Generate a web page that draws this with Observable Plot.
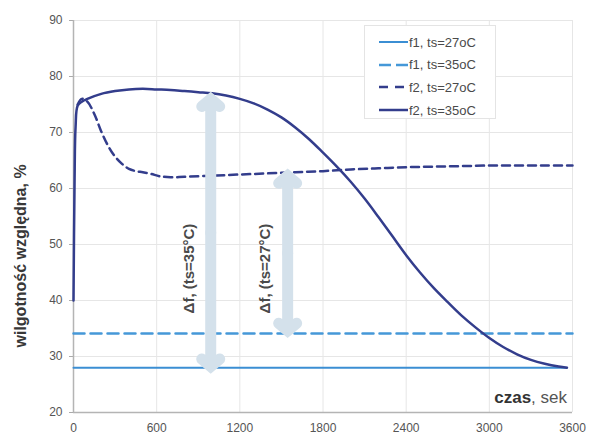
<!DOCTYPE html>
<html><head><meta charset="utf-8">
<script src="https://cdn.jsdelivr.net/npm/d3@7"></script>
<script src="https://cdn.jsdelivr.net/npm/@observablehq/plot@0.6"></script>
<style>
body{margin:0;background:#fff;font-family:"Liberation Sans",Arial,sans-serif}
#wrap{position:relative;width:593px;height:441px;overflow:hidden}
#legend{position:absolute;left:364px;top:25px;width:132px;height:94px;background:#fff;border:1px solid #e4e4e4;box-sizing:border-box}
.item{position:absolute;left:14px;height:14px;display:flex;align-items:center;font-size:13px;color:#4a4a4a;white-space:nowrap}
.item svg{margin-right:1px}
#xlab{position:absolute;right:26px;top:388px;font-size:17px;color:#555;white-space:nowrap}
#xlab b{color:#333}
</style></head>
<body><div id="wrap"></div>
<script>
// ---- data ----
const xTicks = [0, 600, 1200, 1800, 2400, 3000, 3600];
const yTicks = [20, 30, 40, 50, 60, 70, 80, 90];

const f1_27_t = [0, 3560];
const f1_27_v = [28, 28];

const f1_35_t = [0, 3600];
const f1_35_v = [34.1, 34.1];

const f2_27_t = [30, 60, 100, 150, 200, 250, 300, 350, 400, 450, 500, 560, 620, 700, 800, 1000, 1200, 1400, 1600, 1800, 2000, 2200, 2400, 2600, 2800, 3000, 3200, 3400, 3600];
const f2_27_v = [75, 76, 75.5, 73.3, 70.2, 67.6, 65.7, 64.4, 63.5, 63.1, 62.9, 62.6, 62.2, 62, 62.1, 62.3, 62.5, 62.7, 62.9, 63.1, 63.4, 63.6, 63.8, 63.9, 64, 64.1, 64.1, 64.1, 64.1];

const f2_35_t = [0, 8, 15, 30, 60, 100, 200, 300, 400, 500, 600, 700, 800, 900, 1000, 1100, 1200, 1300, 1400, 1500, 1600, 1700, 1800, 1900, 2000, 2100, 2200, 2300, 2400, 2500, 2600, 2700, 2800, 2900, 3000, 3100, 3200, 3300, 3400, 3500, 3560];
const f2_35_v = [40, 62, 71, 74.8, 75.5, 76, 76.9, 77.4, 77.7, 77.8, 77.7, 77.6, 77.4, 77.2, 77, 76.6, 76, 75.2, 74.1, 72.7, 70.9, 68.8, 66.4, 63.9, 61.2, 58.2, 54.9, 51.5, 48.1, 45, 42.2, 39.7, 37.3, 35.2, 33.3, 31.7, 30.4, 29.4, 28.7, 28.2, 28];

const seriesNames = ["f1, ts=27oC", "f1, ts=35oC", "f2, ts=27oC", "f2, ts=35oC"];

const arrowT = [990, 1545];
const arrowTop = [76, 62.3];
const arrowBottom = [28.2, 34.6];
const arrowLabels = ["Δf, (ts=35°C)", "Δf, (ts=27°C)"];
const arrowLabelStartY = [37.7, 37.7];

const yLabel = "wilgotność względna, %";

// ---- styles ----
const styles = [
  {color: "#3b8ed3", width: 2, dash: null},
  {color: "#4598d8", width: 2.5, dash: "11,6"},
  {color: "#333d8c", width: 2.5, dash: "8,5"},
  {color: "#333d8c", width: 2.5, dash: null}
];
const seriesData = [[f1_27_t, f1_27_v], [f1_35_t, f1_35_v], [f2_27_t, f2_27_v], [f2_35_t, f2_35_v]]
  .map(([t, v]) => d3.zip(t, v));

const arrowIdx = d3.range(arrowT.length);
const arrowMid = arrowIdx.map(i => (arrowTop[i] + arrowBottom[i]) / 2);
const arrowColor = "#d4e1eb";

const chart = Plot.plot({
  width: 593, height: 441,
  marginLeft: 73, marginRight: 21, marginTop: 20, marginBottom: 29,
  style: {background: "#fff", fontFamily: "Liberation Sans, Arial, sans-serif"},
  x: {domain: [0, 3600], ticks: xTicks},
  y: {domain: [20, 90], ticks: yTicks},
  marks: [
    Plot.gridX(xTicks, {stroke: "#e6e6e6", strokeOpacity: 1, strokeWidth: 1}),
    Plot.gridY(yTicks, {stroke: "#e6e6e6", strokeOpacity: 1, strokeWidth: 1}),
    Plot.axisX(xTicks, {tickSize: 0, tickPadding: 11, fontSize: 12, fill: "#555", label: null, tickFormat: d => String(d)}),
    Plot.axisY(yTicks, {tickSize: 4, stroke: "#aaa", tickPadding: 7, fontSize: 12, fill: "#555", label: null, tickFormat: d => String(d)}),
    Plot.ruleX([0], {stroke: "#b4b4b4", strokeWidth: 1.5}),
    Plot.ruleY([20], {stroke: "#b4b4b4", strokeWidth: 1.5}),
    ...seriesData.map((d, i) => Plot.line(d, {
      x: d => d[0], y: d => d[1],
      stroke: styles[i].color, strokeWidth: styles[i].width,
      strokeDasharray: styles[i].dash, curve: "catmull-rom"
    })),
    Plot.arrow(arrowIdx, {x1: i => arrowT[i], y1: i => arrowMid[i], x2: i => arrowT[i], y2: i => arrowTop[i],
      stroke: arrowColor, strokeWidth: 11, headLength: 1.6, headAngle: 100, strokeLinejoin: "miter", strokeMiterlimit: 10}),
    Plot.arrow(arrowIdx, {x1: i => arrowT[i], y1: i => arrowMid[i], x2: i => arrowT[i], y2: i => arrowBottom[i],
      stroke: arrowColor, strokeWidth: 11, headLength: 1.6, headAngle: 100, strokeLinejoin: "miter", strokeMiterlimit: 10}),
    Plot.text(arrowIdx, {x: i => arrowT[i], y: i => arrowLabelStartY[i], text: i => arrowLabels[i],
      rotate: -90, textAnchor: "start", dx: -22, fontSize: 15, fontWeight: "bold", fill: "#4a4a4a", ariaLabel: "dlabels"}),
    Plot.text([yLabel], {frameAnchor: "bottom-left", text: d => d, rotate: -90, textAnchor: "start", dx: -48, dy: -65,
      fontSize: 16, fontWeight: "bold", fill: "#383838", ariaLabel: "ylabel"})
  ]
});
document.getElementById("wrap").appendChild(chart);
d3.select(chart).selectAll('g[aria-label="dlabels"] text').attr("textLength", 112).attr("lengthAdjust", "spacingAndGlyphs");
d3.select(chart).selectAll('g[aria-label="ylabel"] text').attr("textLength", 234).attr("lengthAdjust", "spacingAndGlyphs");

// legend
const legend = d3.select("#wrap").append("div").attr("id", "legend");
seriesNames.forEach((name, i) => {
  const it = legend.append("div").attr("class", "item").style("top", (9 + i * 22.7) + "px");
  const s = it.append("svg").attr("width", 29).attr("height", 6);
  s.append("line").attr("x1", 0).attr("x2", 29).attr("y1", 3).attr("y2", 3)
    .attr("stroke", styles[i].color).attr("stroke-width", styles[i].width)
    .attr("stroke-dasharray", styles[i].dash ? (i === 1 ? "12,5" : "9,7") : null);
  it.append("span").text(name);
});
d3.select("#wrap").append("div").attr("id", "xlab").html("<b>czas</b>, sek");
</script></body></html>
